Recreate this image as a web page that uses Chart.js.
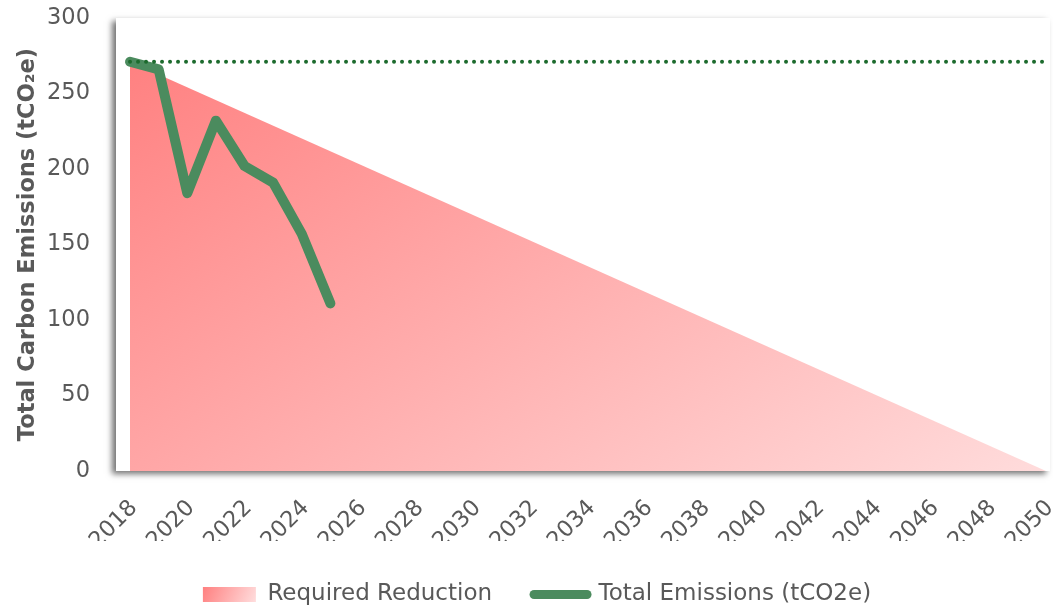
<!DOCTYPE html>
<html>
<head>
<meta charset="utf-8">
<script src="https://cdn.jsdelivr.net/npm/chart.js@4.4.1/dist/chart.umd.min.js"></script>
<style>
  html, body { margin: 0; padding: 0; background: #ffffff; }
  #wrap { width: 1053px; height: 607px; position: relative; }
</style>
</head>
<body>
<div id="wrap"><canvas id="c" width="1053" height="607"></canvas></div>
<script>
// ---- data ----
const emissionYears = [2018, 2019, 2020, 2021, 2022, 2023, 2024, 2025];
const emissionValues = [271, 266, 184, 232, 202, 191, 157, 111];
const targetYears = [2018, 2050];
const targetValues = [271, 0];
const baselineYears = [2018, 2050];
const baselineValues = [271, 271];
const xTickLabels = [2018, 2020, 2022, 2024, 2026, 2028, 2030, 2032, 2034, 2036, 2038, 2040, 2042, 2044, 2046, 2048, 2050];
const yTickValues = [0, 50, 100, 150, 200, 250, 300];
const seriesNames = ['Required Reduction', 'Total Emissions (tCO2e)'];
const yTitle = 'Total Carbon Emissions (tCO\u2082e)';

const FONT = "'DejaVu Sans', sans-serif";
const TXT = '#595959';
const GREEN = '#4b8b5e';
const DOT = '#1d6b2e';
const LEFT_PAD = 24;
const BOTTOM_PAD = -9;

function toPoints(xs, ys) { return xs.map((x, i) => ({ x: x, y: ys[i] })); }

function areaGradient(chart) {
  const a = chart.chartArea;
  if (!a) return 'rgba(255,160,160,1)';
  const ctx = chart.ctx;
  const x0 = a.left + 14, y0 = a.top;
  const len = (a.right - x0) * 0.544 + (a.bottom - y0) * 0.839;
  const g = ctx.createLinearGradient(x0, y0, x0 + 0.544 * len, y0 + 0.839 * len);
  g.addColorStop(0, '#ff7d7d');
  g.addColorStop(1, '#ffdcdc');
  return g;
}

const plotShadow = {
  id: 'plotShadow',
  beforeDraw(chart) {
    const a = chart.chartArea;
    const ctx = chart.ctx;
    ctx.save();
    ctx.shadowColor = 'rgba(0,0,0,0.55)';
    ctx.shadowBlur = 6;
    ctx.shadowOffsetX = -4;
    ctx.shadowOffsetY = 3;
    ctx.fillStyle = '#ffffff';
    ctx.fillRect(a.left, a.top, a.right - a.left, a.bottom - a.top);
    ctx.restore();
  }
};

const legendGradient = {
  id: 'legendGradient',
  beforeDraw(chart) {
    const lg = chart.legend;
    if (!lg || !lg.legendHitBoxes || !lg.legendHitBoxes[0]) return;
    const hb = lg.legendHitBoxes[0];
    const g = chart.ctx.createLinearGradient(hb.left, hb.top, hb.left + 53, hb.top + hb.height);
    g.addColorStop(0, '#ff7d7d');
    g.addColorStop(1, '#ffe0e0');
    lg.legendItems[0].fillStyle = g;
  }
};

Chart.defaults.font.family = FONT;
Chart.defaults.color = TXT;

new Chart(document.getElementById('c'), {
  type: 'line',
  data: {
    datasets: [
      {
        label: seriesNames[0],
        data: toPoints(targetYears, targetValues),
        backgroundColor: (c) => areaGradient(c.chart),
        borderWidth: 0,
        borderColor: 'rgba(0,0,0,0)',
        fill: 'origin',
        pointRadius: 0,
        order: 3
      },
      {
        label: seriesNames[1],
        data: toPoints(emissionYears, emissionValues),
        borderColor: GREEN,
        backgroundColor: GREEN,
        borderWidth: 10,
        borderCapStyle: 'round',
        borderJoinStyle: 'round',
        fill: false,
        pointRadius: 0,
        tension: 0,
        order: 2
      },
      {
        label: 'baseline',
        data: toPoints(baselineYears, baselineValues),
        borderColor: DOT,
        borderWidth: 4,
        borderDash: [0, 8],
        borderCapStyle: 'round',
        fill: false,
        pointRadius: 0,
        order: 1
      }
    ]
  },
  options: {
    responsive: false,
    animation: false,
    layout: { padding: { top: 18, right: 3, left: LEFT_PAD, bottom: BOTTOM_PAD } },
    plugins: {
      tooltip: { enabled: false },
      legend: {
        position: 'bottom',
        labels: {
          font: { size: 23, family: FONT },
          color: TXT,
          usePointStyle: true,
          pointStyleWidth: 53,
          boxHeight: 15,
          padding: 42,
          generateLabels(chart) {
            return [
              { text: seriesNames[0], fillStyle: '#ffaaaa', strokeStyle: 'rgba(0,0,0,0)', lineWidth: 0, pointStyle: 'rect', datasetIndex: 0, fontColor: TXT },
              { text: seriesNames[1], fillStyle: GREEN, strokeStyle: GREEN, lineWidth: 9, lineCap: 'round', pointStyle: 'line', datasetIndex: 1, fontColor: TXT }
            ];
          }
        }
      }
    },
    scales: {
      x: {
        type: 'linear',
        min: 2017.51,
        max: 2050.14,
        grid: { display: false, drawTicks: false },
        border: { display: false },
        afterBuildTicks(scale) { scale.ticks = xTickLabels.map(v => ({ value: v })); },
        afterFit(scale) {
          scale.height = scale.chart.height - BOTTOM_PAD - scale.chart.legend.height - 471;
          scale.paddingLeft = 0;
          scale.paddingRight = 0;
        },
        ticks: {
          minRotation: 45,
          maxRotation: 45,
          autoSkip: false,
          padding: 24,
          labelOffset: 4,
          font: { size: 22.5 },
          color: TXT,
          callback: (v) => String(v)
        }
      },
      y: {
        min: 0,
        max: 300,
        grid: { display: false, drawTicks: false },
        border: { display: false },
        afterBuildTicks(scale) { scale.ticks = yTickValues.map(v => ({ value: v })); },
        afterFit(scale) {
          scale.width = 116 - LEFT_PAD;
          scale.paddingTop = 0;
          scale.paddingBottom = 0;
        },
        ticks: {
          padding: 26,
          font: { size: 22.5 },
          color: TXT
        },
        title: {
          display: true,
          text: yTitle,
          color: TXT,
          font: { size: 22.5, weight: 'bold', family: FONT, lineHeight: 0.4 },
          padding: { top: 0, bottom: 0 }
        }
      }
    }
  },
  plugins: [plotShadow, legendGradient]
});
</script>
</body>
</html>
